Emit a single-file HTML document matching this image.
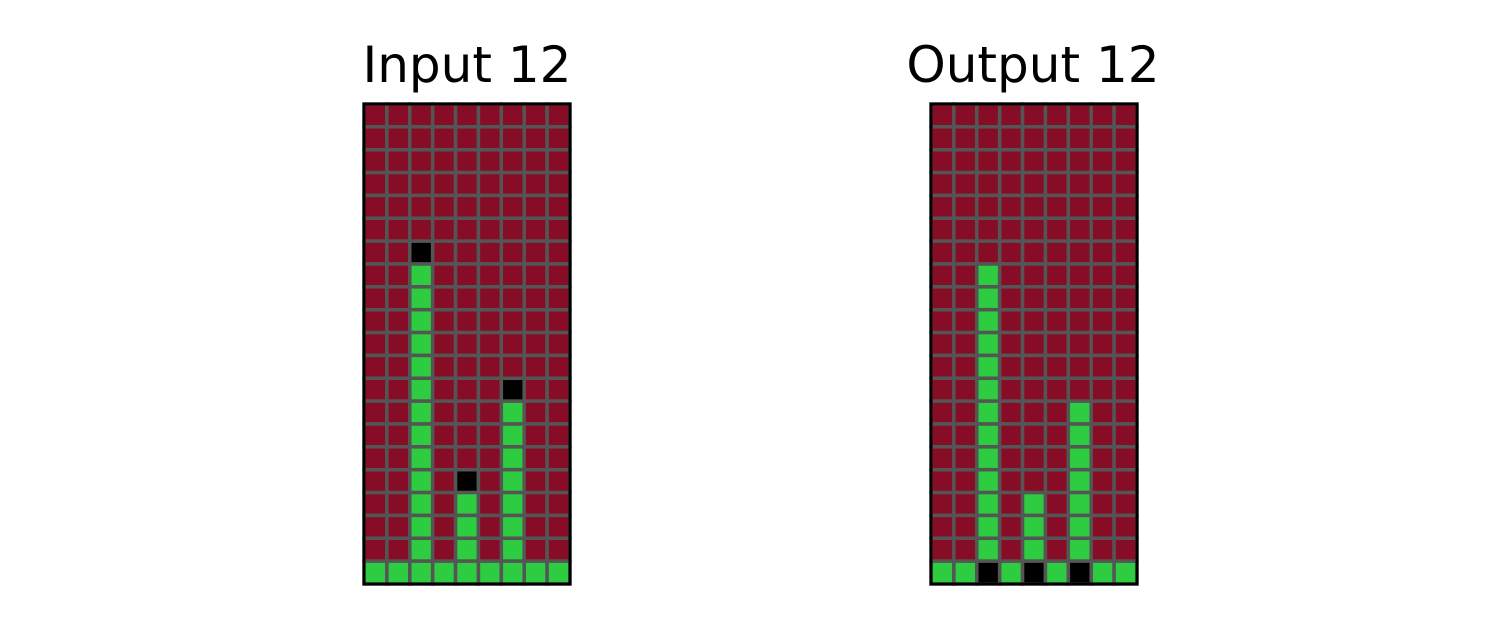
<!DOCTYPE html>
<html>
<head>
<meta charset="utf-8">
<style>
  html,body{margin:0;padding:0;background:#fff;}
  svg{display:block;}
  text{font-family:"DejaVu Sans","Liberation Sans",sans-serif;}
</style>
</head>
<body>
<svg id="chart" width="1500" height="629" viewBox="0 0 1500 629">
  <text x="467" y="82" font-size="50" text-anchor="middle" fill="#000">Input 12</text>
  <text x="1033" y="82" font-size="50" text-anchor="middle" fill="#000">Output 12</text>
  <g id="gin"></g>
  <g id="gout"></g>
</svg>
<script>
// 0 = background (maroon), 1 = green, 2 = black
const numRows = 21;
const numCols = 9;
// input bars: [colIndex, topGreenRow, blackRow]
const inputBars = [[2, 7, 6], [4, 17, 16], [6, 13, 12]];
// output bars: [colIndex, topGreenRow], black placed in bottom row
const outputBars = [[2, 7], [4, 17], [6, 13]];

const palette = ['#870c25', '#2ecc40', '#000000'];

function makeGrid(kind) {
  const g = [];
  for (let r = 0; r < numRows; r++) { g.push(new Array(numCols).fill(0)); }
  for (let c = 0; c < numCols; c++) g[numRows - 1][c] = 1;
  if (kind === 'in') {
    inputBars.forEach(([c, top, blk]) => {
      for (let r = top; r < numRows - 1; r++) g[r][c] = 1;
      g[blk][c] = 2;
    });
  } else {
    outputBars.forEach(([c, top]) => {
      for (let r = top; r < numRows - 1; r++) g[r][c] = 1;
      g[numRows - 1][c] = 2;
    });
  }
  return g;
}

const NS = 'http://www.w3.org/2000/svg';
function draw(gid, x0, grid, prefix) {
  const gEl = document.getElementById(gid);
  const y0 = 104, w = 206, h = 480;
  const cw = w / numCols, ch = h / numRows;
  for (let r = 0; r < numRows; r++) {
    for (let c = 0; c < numCols; c++) {
      const rect = document.createElementNS(NS, 'rect');
      rect.setAttribute('x', x0 + c * cw);
      rect.setAttribute('y', y0 + r * ch);
      rect.setAttribute('width', cw);
      rect.setAttribute('height', ch);
      rect.setAttribute('fill', palette[grid[r][c]]);
      rect.setAttribute('stroke', '#555');
      rect.setAttribute('stroke-width', '3.5');
      
      
      gEl.appendChild(rect);
    }
  }
  const border = document.createElementNS(NS, 'rect');
  border.setAttribute('x', x0);
  border.setAttribute('y', y0);
  border.setAttribute('width', w);
  border.setAttribute('height', h);
  border.setAttribute('fill', 'none');
  border.setAttribute('stroke', '#000');
  border.setAttribute('stroke-width', '3');
  
  
  gEl.appendChild(border);
}
draw('gin', 364, makeGrid('in'), 'input');
draw('gout', 931, makeGrid('out'), 'output');
</script>
</body>
</html>
